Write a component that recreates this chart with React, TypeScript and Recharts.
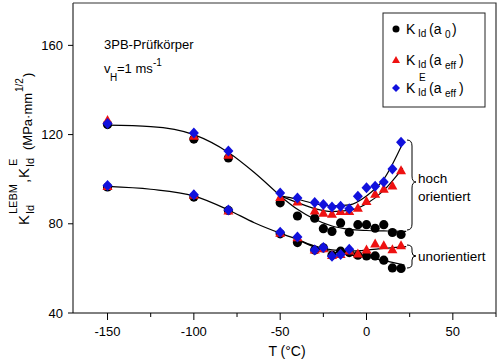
import React from "react";
import { ComposedChart, Line, Scatter, XAxis, YAxis } from "recharts";

const FONT = '"Liberation Sans", Arial, sans-serif';

// temperatures (°C) of the test series
const tempsHoch = [-150, -100, -80, -50, -40, -30, -25, -20, -15, -10, -5, 0, 5, 10, 15, 20];
const tempsUnor = [-150, -100, -80, -50, -40, -30, -25, -20, -15, -10, -5, 0, 5, 10, 15, 20];
const tempsUnorE = [-150, -100, -80, -50, -40, -30, -25, -20, -15, -10];

// hoch orientiert
const kA0Hoch = [124.5, 118, 109.5, 89.4, 83.5, 82.5, 77.8, 76.6, 80.4, 76.2, 79.6, 79.6, 78, 79.6, 76.1, 75.2];
const kEffHoch = [126.5, 119.5, 111, 92, 90, 86, 84.9, 84.5, 85.7, 85.7, 87.2, 90.2, 93.5, 95.7, 97.2, 104];
const kEHoch = [125, 120.7, 112.6, 93.8, 91.6, 89.6, 88.6, 87.5, 87.9, 86.7, 92.3, 96.2, 96.8, 98.7, 104.6, 116.6];

// unorientiert
const kA0Unor = [96.5, 92, 86, 75.5, 71.6, 68.2, 69.2, 65.9, 67.7, 67.1, 65.9, 65.6, 65.6, 63.7, 60.2, 60];
const kEffUnor = [97, 93, 86, 76, 74, 68.5, 69, 66, 66.5, 68, 66.7, 68.5, 71.2, 70.4, 68.6, 70.4];
const kEUnor = [97.2, 93, 86.2, 76.2, 74.1, 68.2, 69.4, 65.4, 66.2, 68.6];

// fitted curves
const fitHochT = [-150, -125, -100, -80, -65, -50];
const fitHochK = [124.2, 123.6, 120, 112, 103, 92.5];
const fitAT = [-50, -40, -30, -20, -10, 0, 10, 21.5];
const fitAK = [92.5, 91, 89, 88, 88.5, 92.5, 100, 117];
const fitBT = [-50, -40, -30, -20, -10, 0, 10, 21];
const fitBK = [92.5, 89.5, 86.8, 85.5, 86, 89, 95, 105];
const fitCT = [-50, -40, -30, -20, -10, 0, 10, 23];
const fitCK = [92.5, 86.5, 82, 79, 77.5, 77, 76.8, 76.6];
const fitUnorT = [-150, -125, -100, -80, -65, -50, -40];
const fitUnorK = [96.8, 95.5, 92.5, 86.2, 80.5, 75.8, 73];
const fitDT = [-40, -30, -20, -10, 0, 10, 23];
const fitDK = [73, 70, 68.3, 67.8, 68.2, 69, 69.8];
const fitET = [-40, -30, -20, -10, 0, 10, 22];
const fitEK = [73, 69.5, 67.5, 66, 65, 63.5, 61.5];

const xTicks = [-150, -125, -100, -75, -50, -25, 0, 25, 50, 75];
const yTicks = [40, 80, 120, 160];

const pts = (xs: number[], ys: number[]) => xs.map((x, i) => ({ x, y: ys[i] }));

const circleShape = (p: any) => <circle cx={p.cx} cy={p.cy} r={4.6} fill="#000" />;
const triShape = (p: any) => (
  <polygon
    points={`${p.cx},${p.cy - 5} ${p.cx - 5},${p.cy + 4} ${p.cx + 5},${p.cy + 4}`}
    fill="#ee1111"
  />
);
const diaShape = (p: any) => (
  <polygon
    points={`${p.cx},${p.cy - 5.5} ${p.cx + 5},${p.cy} ${p.cx},${p.cy + 5.5} ${p.cx - 5},${p.cy}`}
    fill="#1111dd"
  />
);

const XTick = (props: any) => {
  const { x, payload } = props;
  const major = payload.value % 50 === 0;
  return (
    <g>
      <line x1={x} x2={x} y1={313} y2={major ? 320 : 317} stroke="#000" />
      {major && payload.value < 75 ? (
        <text x={x} y={336} textAnchor="middle" fontSize={13} fontFamily={FONT} fill="#000">
          {payload.value}
        </text>
      ) : null}
    </g>
  );
};

const fitLine = (data: { x: number; y: number }[], key: string) => (
  <Line
    key={key}
    data={data}
    dataKey="y"
    type="monotone"
    stroke="#000"
    strokeWidth={1.2}
    dot={false}
    isAnimationActive={false}
  />
);

export default function App() {
  return (
    <div style={{ position: "absolute", left: 0, top: 0, width: 500, height: 363, background: "#fff" }}>
      <ComposedChart width={500} height={363} margin={{ top: 3, right: 4, left: 0, bottom: 0 }}>
        <XAxis
          dataKey="x"
          type="number"
          domain={[-170, 75]}
          ticks={xTicks}
          allowDataOverflow
          height={50}
          tickLine={false}
          axisLine={{ stroke: "#000" }}
          tick={<XTick />}
          interval={0}
        />
        <YAxis
          dataKey="y"
          type="number"
          domain={[40, 179]}
          ticks={yTicks}
          allowDataOverflow
          width={73}
          tickSize={5}
          tickMargin={5}
          axisLine={{ stroke: "#000" }}
          tickLine={{ stroke: "#000" }}
          tick={{ fill: "#000", fontSize: 13, fontFamily: FONT }}
        />
        {fitLine(pts(fitHochT, fitHochK), "h")}
        {fitLine(pts(fitAT, fitAK), "a")}
        {fitLine(pts(fitBT, fitBK), "b")}
        {fitLine(pts(fitCT, fitCK), "c")}
        {fitLine(pts(fitUnorT, fitUnorK), "u")}
        {fitLine(pts(fitDT, fitDK), "d")}
        {fitLine(pts(fitET, fitEK), "e")}
        <Scatter data={pts(tempsHoch, kA0Hoch)} shape={circleShape} isAnimationActive={false} />
        <Scatter data={pts(tempsUnor, kA0Unor)} shape={circleShape} isAnimationActive={false} />
        <Scatter data={pts(tempsHoch, kEffHoch)} shape={triShape} isAnimationActive={false} />
        <Scatter data={pts(tempsUnor, kEffUnor)} shape={triShape} isAnimationActive={false} />
        <Scatter data={pts(tempsHoch, kEHoch)} shape={diaShape} isAnimationActive={false} />
        <Scatter data={pts(tempsUnorE, kEUnor)} shape={diaShape} isAnimationActive={false} />
      </ComposedChart>
      <svg
        width={500}
        height={363}
        style={{ position: "absolute", left: 0, top: 0, pointerEvents: "none" }}
        fontFamily={FONT}
        fill="#000"
      >
        {/* top and right frame */}
        <polyline points="73,3 496,3 496,313" fill="none" stroke="#333" strokeWidth={1.2} />
        {/* axis titles */}
        <text x={287} y={356} textAnchor="middle" fontSize={14}>
          T (°C)
        </text>
        <g transform="translate(29,225) rotate(-90)">
          <text x={0} y={0} fontSize={15}>K</text>
          <text x={11} y={5} fontSize={11}>Id</text>
          <text x={11} y={-12} fontSize={11}>LEBM</text>
          <text x={42} y={0} fontSize={15}>,</text>
          <text x={47} y={0} fontSize={15}>K</text>
          <text x={58} y={5} fontSize={11}>Id</text>
          <text x={59} y={-12} fontSize={11}>E</text>
          <text x={75} y={3} fontSize={13}>(MPa·mm</text>
          <text x={133} y={-6} fontSize={10}>1/2</text>
          <text x={148} y={3} fontSize={13}>)</text>
        </g>
        {/* annotations */}
        <text x={104} y={49} fontSize={13}>3PB-Prüfkörper</text>
        <text x={104} y={73} fontSize={13}>v</text>
        <text x={110} y={81} fontSize={10}>H</text>
        <text x={117} y={73} fontSize={13}>=1 ms</text>
        <text x={153} y={66} fontSize={10}>-1</text>
        {/* legend */}
        <rect x={383} y={13} width={102} height={94} fill="none" stroke="#222" />
        <circle cx={396} cy={29} r={3.5} fill="#000" />
        <text x={406} y={34} fontSize={14}>K</text>
        <text x={418} y={37} fontSize={10}>Id</text>
        <text x={429} y={34} fontSize={14}>(a</text>
        <text x={445} y={38} fontSize={10}>0</text>
        <text x={452} y={34} fontSize={14}>)</text>
        <polygon points="396,56 392,63 400,63" fill="#ee1111" />
        <text x={406} y={65} fontSize={14}>K</text>
        <text x={418} y={68} fontSize={10}>Id</text>
        <text x={429} y={65} fontSize={14}>(a</text>
        <text x={445} y={69} fontSize={10}>eff</text>
        <text x={459} y={65} fontSize={14}>)</text>
        <polygon points="396,84 400,88 396,92 392,88" fill="#1111dd" />
        <text x={406} y={93} fontSize={14}>K</text>
        <text x={418} y={96} fontSize={10}>Id</text>
        <text x={419} y={81} fontSize={10}>E</text>
        <text x={429} y={93} fontSize={14}>(a</text>
        <text x={445} y={97} fontSize={10}>eff</text>
        <text x={459} y={93} fontSize={14}>)</text>
        {/* braces */}
        <path
          d="M407,140 Q412,140 412,146 L412,176 Q412,182 416,182 Q412,182 412,188 L412,224 Q412,230 407,230"
          fill="none"
          stroke="#000"
          strokeWidth={1}
        />
        <path
          d="M407,245 Q412,245 412,249 L412,252 Q412,256 416,256 Q412,256 412,260 L412,264 Q412,268 407,268"
          fill="none"
          stroke="#000"
          strokeWidth={1}
        />
        <text x={418} y={183} fontSize={13.5}>hoch</text>
        <text x={418} y={201} fontSize={13.5}>orientiert</text>
        <text x={418} y={261} fontSize={13.5}>unorientiert</text>
      </svg>
    </div>
  );
}
